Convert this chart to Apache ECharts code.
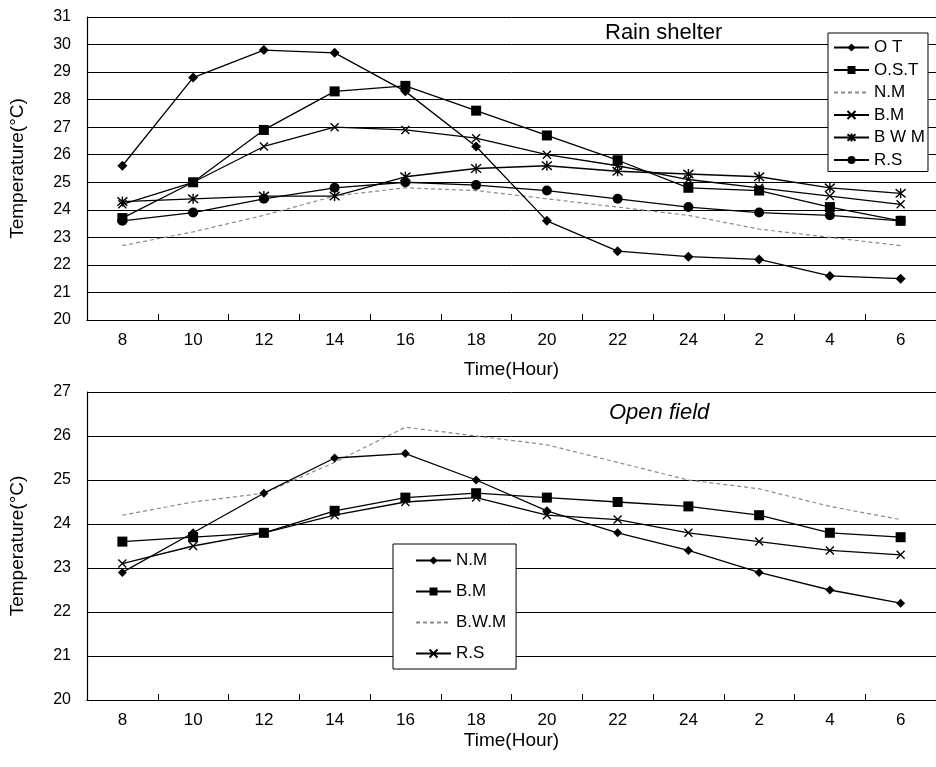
<!DOCTYPE html>
<html>
<head>
<meta charset="utf-8">
<script src="https://cdn.jsdelivr.net/npm/echarts@6/dist/echarts.min.js"></script>
<style>
html,body{margin:0;padding:0;background:#fff;}
#chart{width:936px;height:767px;}
</style>
</head>
<body>
<div id="chart"></div>
<script>
// Categories (time of day, hours)
var hours = ['8','10','12','14','16','18','20','22','24','2','4','6'];

// Rain shelter (top panel)
var rsNames = ['O T','O.S.T','N.M','B.M','B W M','R.S'];
var rsOT  = [25.6,28.8,29.8,29.7,28.3,26.3,23.6,22.5,22.3,22.2,21.6,21.5];
var rsOST = [23.7,25.0,26.9,28.3,28.5,27.6,26.7,25.8,24.8,24.7,24.1,23.6];
var rsNM  = [22.7,23.2,23.8,24.5,24.8,24.7,24.4,24.1,23.8,23.3,23.0,22.7];
var rsBM  = [24.2,25.0,26.3,27.0,26.9,26.6,26.0,25.6,25.1,24.8,24.5,24.2];
var rsBWM = [24.3,24.4,24.5,24.5,25.2,25.5,25.6,25.4,25.3,25.2,24.8,24.6];
var rsRS  = [23.6,23.9,24.4,24.8,25.0,24.9,24.7,24.4,24.1,23.9,23.8,23.6];

// Open field (bottom panel)
var ofNames = ['N.M','B.M','B.W.M','R.S'];
var ofNM  = [22.9,23.8,24.7,25.5,25.6,25.0,24.3,23.8,23.4,22.9,22.5,22.2];
var ofBM  = [23.6,23.7,23.8,24.3,24.6,24.7,24.6,24.5,24.4,24.2,23.8,23.7];
var ofBWM = [24.2,24.5,24.7,25.4,26.2,26.0,25.8,25.4,25.0,24.8,24.4,24.1];
var ofRS  = [23.1,23.5,23.8,24.2,24.5,24.6,24.2,24.1,23.8,23.6,23.4,23.3];

// Axis ranges / titles
var topRange = [20, 31];
var botRange = [20, 27];
var titleTop = 'Rain shelter';
var titleBot = 'Open field';
var xName = 'Time(Hour)';
var yName = 'Temperature(\u00b0C)';

var FONT = 'Liberation Sans, Arial, sans-serif';
var X_PATH = 'path://M0 0L10 10M10 0L0 10';
var STAR_PATH = 'path://M0 0L10 10M10 0L0 10M5 -1L5 11';

function solid(name, data, sym, size, xi, yi) {
  return {
    type: 'line', name: name, data: data, xAxisIndex: xi, yAxisIndex: yi,
    symbol: sym, symbolSize: size, showSymbol: true,
    lineStyle: {color: '#000', width: 1.3},
    itemStyle: {color: '#000', borderColor: '#000', borderWidth: (sym.indexOf('path') === 0 ? 1.4 : 0)},
    emphasis: {disabled: true}, animation: false, z: 3
  };
}
function dashed(name, data, xi, yi) {
  return {
    type: 'line', name: name, data: data, xAxisIndex: xi, yAxisIndex: yi,
    symbol: 'none',
    lineStyle: {color: '#8a8a8a', width: 1.2, type: [4, 3]},
    itemStyle: {color: '#8a8a8a'},
    emphasis: {disabled: true}, animation: false, z: 2
  };
}

var openPrefix = 'open:';
var dashedTop = rsNames[2];
var dashedBot = openPrefix + ofNames[2];

function legendItems(names, dashedName) {
  return names.map(function (n) {
    if (n === dashedName) {
      return {name: n, itemStyle: {opacity: 0}};
    }
    return {name: n};
  });
}

function xAxis(gridIndex, gap) {
  return {
    type: 'category', gridIndex: gridIndex, data: hours, boundaryGap: true,
    name: xName, nameLocation: 'middle', nameGap: gap,
    nameTextStyle: {fontFamily: FONT, fontSize: 19, color: '#000'},
    axisLine: {lineStyle: {color: '#000', width: 1.2}},
    axisTick: {show: true, inside: true, length: 6, lineStyle: {color: '#000'}},
    axisLabel: {fontFamily: FONT, fontSize: 17, color: '#000', margin: 12},
    splitLine: {show: false}
  };
}
function yAxis(gridIndex, range) {
  return {
    type: 'value', gridIndex: gridIndex, min: range[0], max: range[1], interval: 1,
    name: yName, nameLocation: 'middle', nameGap: 60,
    nameTextStyle: {fontFamily: FONT, fontSize: 19, color: '#000'},
    axisLine: {show: true, lineStyle: {color: '#000', width: 1.2}},
    axisTick: {show: false},
    axisLabel: {fontFamily: FONT, fontSize: 16, color: '#000', margin: 16},
    splitLine: {show: true, lineStyle: {color: '#000', width: 1}}
  };
}

var option = {
  backgroundColor: '#fff',
  animation: false,
  title: [
    {text: titleTop, left: 605, top: 22, padding: 0,
     textStyle: {fontFamily: FONT, fontSize: 22, fontWeight: 'normal', color: '#000'}},
    {text: titleBot, left: 609, top: 402, padding: 0,
     textStyle: {fontFamily: FONT, fontSize: 22, fontWeight: 'normal', fontStyle: 'italic', color: '#000'}}
  ],
  grid: [
    {left: 87, top: 17, width: 854, height: 303},
    {left: 87, top: 392, width: 854, height: 308}
  ],
  xAxis: [xAxis(0, 40), xAxis(1, 31)],
  yAxis: [yAxis(0, topRange), yAxis(1, botRange)],
  legend: [
    {
      data: legendItems(rsNames, dashedTop), orient: 'vertical', left: 828, top: 33,
      padding: [6, 3, 3, 5], itemGap: 5.5, itemWidth: 35, itemHeight: 10,
      backgroundColor: '#fff', borderColor: '#000', borderWidth: 1, borderRadius: 0,
      textStyle: {fontFamily: FONT, fontSize: 17, color: '#000'},
      selectedMode: false
    },
    {
      data: legendItems(ofNames.map(function (n) { return openPrefix + n; }), dashedBot),
      formatter: function (n) { return n.replace(openPrefix, ''); },
      orient: 'vertical', left: 393, top: 544,
      padding: [8, 10, 7, 22], itemGap: 14, itemWidth: 35, itemHeight: 10,
      backgroundColor: '#fff', borderColor: '#000', borderWidth: 1, borderRadius: 0,
      textStyle: {fontFamily: FONT, fontSize: 17, color: '#000'},
      selectedMode: false
    }
  ],
  series: [
    solid(rsNames[0], rsOT, 'diamond', 10, 0, 0),
    solid(rsNames[1], rsOST, 'rect', 10, 0, 0),
    dashed(rsNames[2], rsNM, 0, 0),
    solid(rsNames[3], rsBM, X_PATH, 8, 0, 0),
    solid(rsNames[4], rsBWM, STAR_PATH, 10, 0, 0),
    solid(rsNames[5], rsRS, 'circle', 10, 0, 0),
    solid(openPrefix + ofNames[0], ofNM, 'diamond', 9, 1, 1),
    solid(openPrefix + ofNames[1], ofBM, 'rect', 10, 1, 1),
    dashed(openPrefix + ofNames[2], ofBWM, 1, 1),
    solid(openPrefix + ofNames[3], ofRS, X_PATH, 8, 1, 1)
  ]
};

var chart = echarts.init(document.getElementById('chart'), null, {renderer: 'canvas'});
chart.setOption(option);
</script>
</body>
</html>
